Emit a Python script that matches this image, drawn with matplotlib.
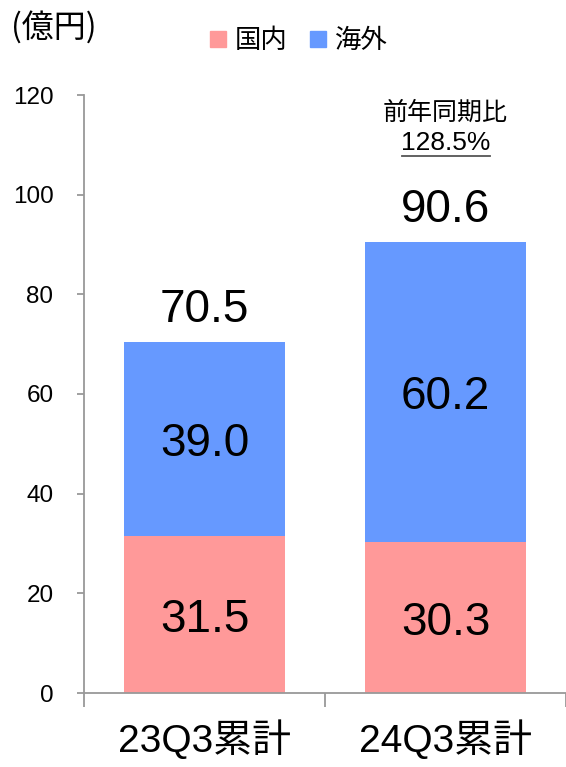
import matplotlib
matplotlib.use("Agg")
import matplotlib.pyplot as plt
from matplotlib.patches import Patch
from matplotlib.ticker import FixedLocator

plt.rcParams['font.family'] = ['Liberation Sans', 'Noto Sans CJK JP', 'DejaVu Sans']

categories = ["23Q3累計", "24Q3累計"]
domestic = [31.5, 30.3]
overseas = [39.0, 60.2]
totals = [70.5, 90.6]
series_names = ["国内", "海外"]
yoy_label = "前年同期比"
yoy_value = "128.5%"
unit_label = "(億円)"
yticks = [0, 20, 40, 60, 80, 100, 120]

c_dom = "#FF9999"
c_ovs = "#6699FF"
axis_c = "#999999"

fig = plt.figure(figsize=(5.66, 7.67), dpi=100)
ax = fig.add_axes([84/566, 1-693/767, 1-84/566, (693-95)/767])

x = list(range(len(categories)))
w = 0.67
ax.bar(x, domestic, width=w, color=c_dom, label=series_names[0])
ax.bar(x, overseas, width=w, bottom=domestic, color=c_ovs, label=series_names[1])

for i in x:
    ax.text(i, domestic[i]/2, f"{domestic[i]:.1f}", ha='center', va='center_baseline', fontsize=33)
    ax.text(i, domestic[i] + overseas[i]/2, f"{overseas[i]:.1f}", ha='center', va='center_baseline', fontsize=33)
    ax.annotate(f"{totals[i]:.1f}", (i, totals[i]), xytext=(0, 7), textcoords='offset points',
                ha='center', va='bottom', fontsize=33)

ax.set_xlim(-0.5, 1.5)
ax.set_ylim(0, 120)
ax.set_yticks(yticks)
ax.set_xticks(x)
ax.set_xticklabels(categories, fontsize=28)
ax.xaxis.set_minor_locator(FixedLocator([-0.5, 0.5, 1.5]))
ax.tick_params(axis='x', which='major', length=0, pad=20)
ax.tick_params(axis='x', which='minor', length=10, width=1.3, color=axis_c, direction='out')
ax.tick_params(axis='y', length=5, width=1.3, color=axis_c, labelsize=17.5, pad=17)

for s in ['top', 'right']:
    ax.spines[s].set_visible(False)
for s in ['left', 'bottom']:
    ax.spines[s].set_color(axis_c)
    ax.spines[s].set_linewidth(1.3)
ax.spines['bottom'].set_bounds(-0.5, 1.5)

# YoY annotation
ax.text(1.0, 116.4, yoy_label, ha='center', va='center', fontsize=18)
ax.text(1.0, 110.3, yoy_value, ha='center', va='center', fontsize=19)
ax.plot([0.82, 1.185], [107.8, 107.8], color='#555555', lw=1.3, clip_on=False)

fig.text(11/566, 1-27/767, unit_label, ha='left', va='center', fontsize=23,
         family=['Noto Sans CJK JP', 'DejaVu Sans'])

handles = [Patch(color=c_dom), Patch(color=c_ovs)]
fig.legend(handles, series_names, loc='center', bbox_to_anchor=(299/566, 1-41/767), ncol=2,
           frameon=False, fontsize=19, handlelength=0.6, handleheight=0.6,
           handletextpad=0.34, columnspacing=0.87, borderpad=0)

fig.savefig("out.png", dpi=100)
